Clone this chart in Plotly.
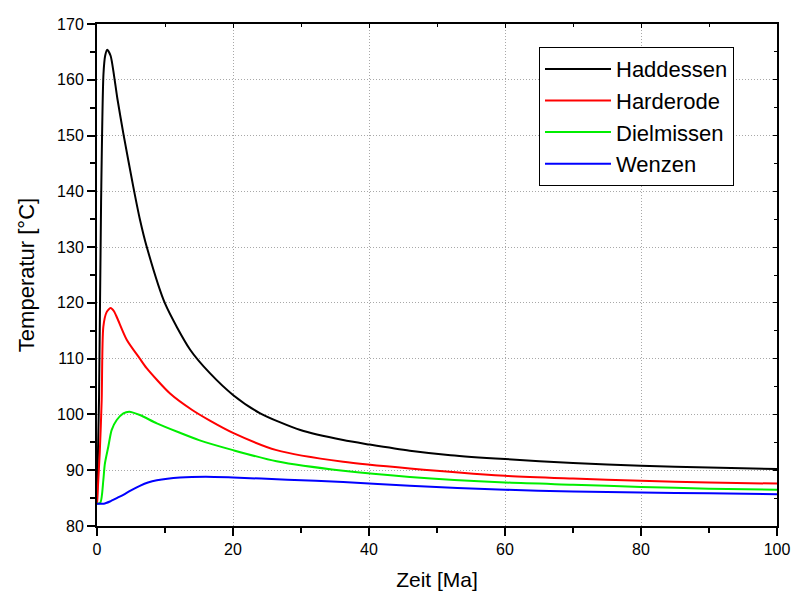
import plotly.graph_objects as go

# Zeit [Ma]
had_x = [0, 0.3, 0.6, 0.95, 1.2, 1.5, 2.0, 2.5, 3.0, 3.87, 5.34, 6.32, 7.3, 10, 13.7, 16.6, 20, 24, 29.9, 36.2, 40.1, 46, 52, 60, 70, 80, 90, 100]
had_y = [84, 103, 138, 161, 164.3, 165.4, 164.3, 160.8, 156.6, 150.4, 140.8, 134.9, 130.1, 119.9, 111.6, 107.4, 103.5, 100.2, 97.2, 95.4, 94.6, 93.5, 92.7, 92.0, 91.3, 90.8, 90.5, 90.2]

har_x = [0, 0.4, 0.69, 0.93, 1.4, 2.0, 2.5, 3.0, 4.37, 6.3, 7.3, 10.7, 14, 16.6, 20, 26.4, 36.2, 46, 60, 70, 80, 90, 100]
har_y = [84, 93, 102.6, 115.7, 118.3, 119.1, 118.5, 117.2, 113.4, 110.0, 108.3, 103.8, 100.8, 98.9, 96.7, 93.6, 91.5, 90.3, 89.0, 88.5, 88.1, 87.8, 87.6]

die_x = [0, 0.5, 0.93, 1.15, 1.66, 2.15, 2.9, 3.87, 4.75, 6.3, 8.8, 12, 15, 20, 26.4, 36.2, 46, 60, 70, 80, 90, 100]
die_y = [84, 84.2, 88.2, 91.1, 94.2, 97.2, 99.0, 100.2, 100.5, 99.9, 98.4, 96.8, 95.4, 93.6, 91.6, 89.9, 88.8, 87.8, 87.4, 87.0, 86.7, 86.5]

wen_x = [0, 1.0, 1.9, 2.9, 3.87, 5.0, 6.3, 7.5, 8.8, 12.2, 16, 20, 28, 36.2, 46, 60, 70, 80, 90, 100]
wen_y = [84, 84.0, 84.4, 85.0, 85.6, 86.4, 87.2, 87.8, 88.2, 88.7, 88.85, 88.7, 88.3, 87.9, 87.2, 86.5, 86.2, 86.0, 85.85, 85.7]

names = ["Haddessen", "Harderode", "Dielmissen", "Wenzen"]
colors = ["#000000", "#ff0000", "#00ee00", "#0000ff"]

x_ticks = [0, 20, 40, 60, 80, 100]
y_ticks = [80, 90, 100, 110, 120, 130, 140, 150, 160, 170]

FONT = "Arial, Liberation Sans, sans-serif"

fig = go.Figure()
for xs, ys, n, c in zip([had_x, har_x, die_x, wen_x], [had_y, har_y, die_y, wen_y], names, colors):
    fig.add_trace(go.Scatter(x=xs, y=ys, mode="lines", name=n,
                             line=dict(color=c, width=2, shape="spline", smoothing=0.7)))

# carrier trace for the mirrored inside-tick axes (top / right)
fig.add_trace(go.Scatter(x=[None], y=[None], xaxis="x2", yaxis="y2", mode="lines",
                         showlegend=False, hoverinfo="skip"))

grid = dict(showgrid=True, gridcolor="#a8a8a8", griddash="1px,2px", gridwidth=1)

fig.update_layout(
    width=792, height=591,
    margin=dict(l=97, r=15, t=24, b=65, autoexpand=False),
    paper_bgcolor="white", plot_bgcolor="white",
    font=dict(family=FONT, color="black", size=16),
    showlegend=True,
    legend=dict(x=0.65, y=0.954, xanchor="left", yanchor="top",
                bgcolor="white", bordercolor="black", borderwidth=1,
                font=dict(size=22, family=FONT), itemwidth=66,
                tracegroupgap=0),
    xaxis=dict(range=[0, 100], tickvals=x_ticks, ticks="outside", ticklen=8,
               tickwidth=2, tickcolor="black", automargin=False,
               showline=True, linecolor="black", linewidth=2, mirror=True,
               zeroline=False,
               minor=dict(dtick=10, tick0=0, ticks="outside", ticklen=5,
                          tickwidth=2, tickcolor="black", showgrid=False),
               title=dict(text="Zeit [Ma]", font=dict(size=21, family=FONT), standoff=15),
               tickfont=dict(size=16), **grid),
    yaxis=dict(range=[80, 170], tickvals=y_ticks, ticks="outside", ticklen=8,
               tickwidth=2, tickcolor="black", automargin=False,
               showline=True, linecolor="black", linewidth=2, mirror=True,
               zeroline=False,
               minor=dict(dtick=5, tick0=80, ticks="outside", ticklen=5,
                          tickwidth=2, tickcolor="black", showgrid=False),
               title=dict(text="Temperatur [°C]", font=dict(size=22, family=FONT), standoff=16),
               tickfont=dict(size=16), **grid),
    xaxis2=dict(overlaying="x", side="top", range=[0, 100], tickvals=x_ticks,
                ticks="inside", ticklen=4, tickwidth=1, tickcolor="black", automargin=False,
                showticklabels=False, showgrid=False, showline=False, zeroline=False,
                minor=dict(dtick=10, tick0=0, ticks="inside", ticklen=3, tickwidth=1,
                           tickcolor="black", showgrid=False)),
    yaxis2=dict(overlaying="y", side="right", range=[80, 170], tickvals=y_ticks,
                ticks="inside", ticklen=4, tickwidth=1, tickcolor="black", automargin=False,
                showticklabels=False, showgrid=False, showline=False, zeroline=False,
                minor=dict(dtick=5, tick0=80, ticks="inside", ticklen=3, tickwidth=1,
                           tickcolor="black", showgrid=False)),
)

fig.write_html("out.html")
